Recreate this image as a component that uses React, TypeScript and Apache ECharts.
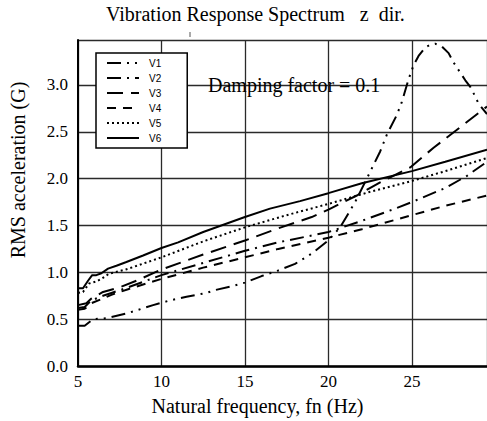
import React, { useEffect, useRef } from "react";
import * as echarts from "echarts";

const seriesNames = ["V1", "V2", "V3", "V4", "V5", "V6"];

const v1: [number, number][] = [
  [5, 0.43], [5.4, 0.43], [5.9, 0.5], [6.7, 0.51], [7.9, 0.56], [9.5, 0.65], [10.5, 0.7],
  [11.5, 0.74], [12.7, 0.78], [13.2, 0.81], [14.3, 0.855], [15, 0.89], [16, 0.96], [17, 1.02],
  [18, 1.09], [19, 1.2], [20, 1.34], [20.7, 1.48], [21.3, 1.66], [21.6, 1.75], [22.3, 2.0],
  [23.1, 2.29], [23.5, 2.47], [24.1, 2.68], [24.4, 2.82], [24.8, 3.06], [25.1, 3.21], [25.4, 3.31],
  [25.8, 3.4], [26.1, 3.43], [26.4, 3.44], [26.8, 3.41], [27.2, 3.34], [27.5, 3.24], [28.2, 3.05],
  [28.5, 2.98], [28.7, 2.91], [29.0, 2.8], [29.5, 2.69],
];
const v2: [number, number][] = [
  [5, 0.62], [5.4, 0.63], [5.8, 0.7], [6.5, 0.75], [7, 0.78], [8, 0.84], [10, 0.97], [12.5, 1.1],
  [15, 1.23], [17, 1.32], [20, 1.43], [22, 1.55], [24, 1.68], [25, 1.75], [27, 1.9], [28.3, 2.03],
  [29.5, 2.18],
];
const v3: [number, number][] = [
  [5, 0.65], [5.5, 0.67], [5.8, 0.72], [6.5, 0.79], [7.5, 0.84], [8.5, 0.91], [10, 1.03],
  [12.5, 1.19], [15, 1.34], [17, 1.47], [19, 1.59], [20, 1.67], [21.7, 1.82], [23.1, 1.96],
  [24.9, 2.12], [26.3, 2.33], [29.5, 2.77],
];
const v4: [number, number][] = [
  [5, 0.6], [5.4, 0.61], [5.8, 0.67], [6.5, 0.72], [7, 0.76], [8, 0.82], [10, 0.93], [12.5, 1.05],
  [15, 1.16], [17, 1.25], [20, 1.37], [22, 1.46], [25, 1.61], [27, 1.71], [29.5, 1.82],
];
const v5: [number, number][] = [
  [5, 0.78], [5.3, 0.79], [5.66, 0.88], [6.06, 0.9], [6.4, 0.93], [6.86, 0.985], [7.86, 1.03],
  [8.86, 1.09], [10, 1.16], [12.5, 1.33], [15, 1.48], [17.5, 1.61], [20, 1.73], [22.5, 1.86],
  [25, 1.975], [27, 2.08], [29.5, 2.22],
];
const v6: [number, number][] = [
  [5, 0.83], [5.3, 0.83], [5.6, 0.91], [5.85, 0.97], [6.1, 0.97], [6.4, 0.99], [6.8, 1.04],
  [7.3, 1.07], [7.9, 1.11], [8.9, 1.18], [10, 1.26], [11, 1.32], [12.5, 1.43], [15, 1.59],
  [16.5, 1.68], [18.3, 1.76], [20, 1.845], [22, 1.95], [25, 2.08], [27, 2.18], [29.5, 2.31],
];

const seriesData = [v1, v2, v3, v4, v5, v6];
const dashTypes: any[] = [
  [14, 6, 2, 6, 2, 6],
  [14, 6, 2, 6],
  [16, 8],
  [9, 7],
  [2, 3],
  "solid",
];

const titleText = "Vibration Response Spectrum\u00a0\u00a0 z \u00a0dir.";
const annotation = "Damping factor = 0.1";
const xTitle = "Natural frequency, fn (Hz)";
const yTitle = "RMS acceleration (G)";

const SERIF = "Liberation Serif, Times New Roman, serif";
const SANS = "Liberation Sans";

export default function App() {
  const ref = useRef<HTMLDivElement>(null);
  useEffect(() => {
    if (!ref.current) return;
    const chart = echarts.init(ref.current, null, { renderer: "svg" });
    chart.setOption({
      animation: false,
      backgroundColor: "#fff",
      textStyle: { fontFamily: SERIF },
      title: {
        text: titleText,
        left: 106,
        top: 4,
        padding: 0,
        textStyle: { fontFamily: SERIF, fontSize: 20, fontWeight: "normal", color: "#000" },
      },
      grid: { left: 78, right: 0, top: 40, bottom: 53, containLabel: false },
      legend: {
        orient: "vertical",
        left: 96,
        top: 53,
        padding: [5, 26, 5, 10],
        itemWidth: 32,
        itemHeight: 10,
        itemGap: 5,
        backgroundColor: "#fff",
        borderColor: "#000",
        borderWidth: 1.5,
        borderRadius: 0,
        data: seriesNames,
        itemStyle: { opacity: 0 },
        textStyle: { fontFamily: SANS, fontSize: 10, color: "#000", padding: [0, 0, 0, 5] },
      },
      xAxis: {
        type: "value",
        min: 5,
        max: 29.5,
        interval: 5,
        name: xTitle,
        nameLocation: "middle",
        nameGap: 30,
        nameTextStyle: { fontFamily: SERIF, fontSize: 20, color: "#000", padding: [0, 50, 0, 0] },
        axisLine: { show: true, lineStyle: { color: "#000", width: 2.5 } },
        axisTick: { show: false },
        axisLabel: {
          fontFamily: SERIF,
          fontSize: 17,
          color: "#000",
          margin: 7,
          showMaxLabel: false,
        },
        splitLine: { show: true, lineStyle: { color: "#2a2a2a", width: 1.3 } },
      },
      yAxis: {
        type: "value",
        min: 0,
        max: 3.48,
        interval: 0.5,
        name: yTitle,
        nameLocation: "middle",
        nameGap: 50,
        nameTextStyle: { fontFamily: SERIF, fontSize: 20, color: "#000", padding: [0, 0, 0, 66] },
        axisLine: { show: true, lineStyle: { color: "#000", width: 2 } },
        axisTick: { show: false },
        axisLabel: {
          fontFamily: SERIF,
          fontSize: 17,
          color: "#000",
          margin: 10,
          showMaxLabel: false,
          formatter: (v: number) => v.toFixed(1),
        },
        splitLine: { show: true, lineStyle: { color: "#2a2a2a", width: 1.3 } },
      },
      graphic: [
        {
          type: "text",
          x: 208,
          y: 85,
          style: {
            text: annotation,
            fontFamily: SERIF,
            fontSize: 20,
            fill: "#000",
            verticalAlign: "middle",
          },
          z: 10,
        },
        {
          type: "line",
          shape: { x1: 190, y1: 32, x2: 190, y2: 37 },
          style: { stroke: "#555", lineWidth: 1 },
        },
      ],
      series: seriesNames.map((name, i) => ({
        name,
        type: "line",
        data: seriesData[i],
        symbol: "none",
        showSymbol: false,
        clip: true,
        lineStyle: { color: "#000", width: 2, type: dashTypes[i] },
        itemStyle: { color: "#000" },
        z: 3,
      })),
    });
    return () => chart.dispose();
  }, []);
  return (
    <div
      ref={ref}
      style={{ position: "fixed", left: 0, top: 0, width: 487, height: 421, background: "#fff" }}
    />
  );
}
